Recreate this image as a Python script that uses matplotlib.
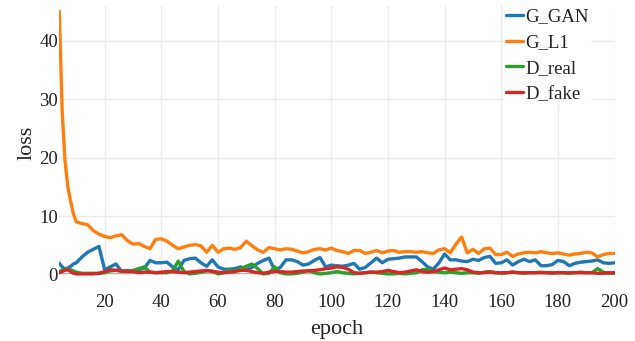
import numpy as np
import matplotlib
matplotlib.use("Agg")
import matplotlib.pyplot as plt

plt.rcParams['font.family'] = ['Liberation Serif', 'DejaVu Serif']

# epochs sampled for the loss curves
epochs = [4, 5, 6, 7, 8, 9, 10] + list(range(12, 201, 2))

g_l1 = [45, 28, 19.5, 15, 12.5, 10.3, 9.0,
        8.7, 8.5, 7.5, 6.9, 6.5, 6.3, 6.6, 6.8, 5.8, 5.2,
        5.3, 4.8, 4.4, 6.0, 6.1, 5.7, 5.0, 4.4, 4.7, 5.0,
        5.1, 4.9, 3.8, 5.0, 3.8, 4.4, 4.5, 4.3, 4.6, 5.7,
        4.9, 4.2, 3.8, 4.6, 4.4, 4.2, 4.4, 4.3, 4.0, 3.7,
        3.9, 4.3, 4.4, 4.2, 4.5, 4.1, 3.9, 3.6, 4.1, 4.1,
        3.6, 3.8, 4.1, 3.7, 4.0, 4.1, 3.8, 3.9, 3.9, 3.8,
        3.9, 3.7, 3.6, 4.2, 4.4, 3.7, 5.2, 6.4, 3.7, 4.3,
        3.6, 4.4, 4.5, 3.4, 3.4, 3.8, 3.1, 3.5, 3.7, 3.8,
        3.7, 3.9, 3.7, 3.6, 3.7, 3.5, 3.3, 3.5, 3.6, 3.8,
        3.7, 3.0, 3.4, 3.6, 3.6]

g_gan = [1.9, 1.3, 0.9, 1.1, 1.4, 1.8, 2.0,
         3.0, 3.8, 4.3, 4.8, 0.8, 1.3, 1.8, 0.5, 0.7, 0.6,
         0.8, 1.1, 2.4, 2.0, 2.0, 2.1, 1.3, 0.8, 2.4, 2.7,
         2.8, 2.0, 1.4, 2.5, 1.3, 0.9, 0.9, 1.0, 1.3, 0.8,
         1.2, 1.9, 2.4, 2.8, 0.8, 1.2, 2.5, 2.5, 2.2, 1.6,
         1.8, 2.4, 2.9, 1.3, 1.6, 1.5, 1.4, 1.6, 1.9, 0.9,
         1.2, 2.0, 2.8, 2.0, 2.6, 2.7, 2.8, 3.0, 3.0, 3.0,
         2.2, 1.3, 0.9, 2.0, 3.5, 2.5, 2.5, 2.3, 2.2, 2.6,
         2.4, 2.9, 3.1, 1.9, 2.0, 2.5, 1.6, 2.2, 2.6, 2.2,
         2.5, 1.5, 1.5, 1.7, 2.4, 2.2, 1.5, 1.9, 2.1, 2.2,
         2.3, 2.5, 2.0, 1.9, 2.0]

d_real = [0.5, 0.7, 0.9, 0.9, 0.8, 0.6, 0.4,
          0.2, 0.2, 0.2, 0.2, 0.3, 0.6, 0.7, 0.6, 0.6, 0.7,
          1.0, 1.3, 0.4, 0.3, 0.3, 0.3, 0.6, 2.3, 0.5, 0.1,
          0.2, 0.4, 0.6, 0.6, 0.1, 0.3, 0.7, 0.6, 1.0, 1.4,
          1.8, 1.0, 0.1, 0.2, 1.3, 0.3, 0.1, 0.1, 0.2, 0.4,
          0.7, 0.3, 0.1, 0.2, 0.3, 0.5, 0.3, 0.2, 0.1, 0.2,
          0.3, 0.4, 0.3, 0.2, 0.1, 0.1, 0.2, 0.1, 0.2, 0.3,
          0.8, 0.9, 0.5, 0.4, 0.3, 0.4, 0.3, 0.2, 0.3, 0.3,
          0.2, 0.4, 0.5, 0.3, 0.2, 0.3, 0.4, 0.3, 0.2, 0.3,
          0.3, 0.4, 0.3, 0.2, 0.3, 0.3, 0.2, 0.3, 0.4, 0.3,
          0.3, 1.0, 0.4, 0.2, 0.2]

d_fake = [0.3, 0.5, 0.7, 0.8, 0.5, 0.2, 0.1,
          0.1, 0.1, 0.1, 0.2, 0.5, 0.8, 0.7, 0.6, 0.5, 0.5,
          0.3, 0.4, 0.4, 0.3, 0.4, 0.5, 0.5, 0.4, 0.3, 0.4,
          0.5, 0.6, 0.7, 0.5, 0.4, 0.3, 0.4, 0.5, 0.7, 0.7,
          0.5, 0.3, 0.2, 0.4, 0.5, 0.5, 0.4, 0.4, 0.5, 0.6,
          0.6, 0.7, 0.8, 1.0, 1.1, 1.3, 1.2, 0.9, 0.3, 0.2,
          0.3, 0.4, 0.4, 0.5, 0.7, 0.5, 0.3, 0.4, 0.6, 0.8,
          0.5, 0.4, 0.5, 0.8, 1.1, 0.8, 0.9, 1.0, 0.8, 0.4,
          0.3, 0.3, 0.4, 0.3, 0.3, 0.3, 0.4, 0.3, 0.3, 0.3,
          0.3, 0.3, 0.3, 0.3, 0.3, 0.3, 0.3, 0.3, 0.3, 0.3,
          0.3, 0.2, 0.2, 0.3, 0.3]

series = [("G_GAN", g_gan, "#1f77b4"),
          ("G_L1", g_l1, "#ff7f0e"),
          ("D_real", d_real, "#2ca02c"),
          ("D_fake", d_fake, "#d62728")]

fig = plt.figure(figsize=(6.35, 3.41), dpi=100)
ax = fig.add_axes([0.0934, 0.179, 0.8745, 0.803])

for name, vals, col in series:
    ax.plot(epochs, vals, color=col, lw=2.4, label=name,
            solid_joinstyle='round', solid_capstyle='round')

ax.axhline(0, color='#9a9a9a', lw=1.3, zorder=0)
ax.set_xlim(4, 200)
ax.set_ylim(-0.94, 45.9)
ax.set_xticks(range(20, 201, 20))
ax.set_yticks([0, 10, 20, 30, 40])
ax.grid(True, color='#ececec', lw=1.0)
ax.set_axisbelow(True)
for s in ax.spines.values():
    s.set_visible(False)
ax.tick_params(length=0, labelsize=13.5, colors='#222222')
ax.tick_params(axis='x', pad=10)
ax.tick_params(axis='y', pad=1)

ax.set_xlabel("epoch", fontsize=16, color='#222222')
ax.set_ylabel("loss", fontsize=16, color='#222222')
ax.xaxis.set_label_coords(0.5, -0.145)
ax.yaxis.set_label_coords(-0.04, 0.5)

leg = ax.legend(loc='upper left', bbox_to_anchor=(0.801, 1.0), frameon=True,
                fontsize=13.5, handlelength=0.9, handletextpad=0.15,
                labelspacing=0.47, borderpad=0.1, borderaxespad=0)
leg.get_frame().set_facecolor('white')
leg.get_frame().set_edgecolor('none')
leg.get_frame().set_alpha(1)
for t in leg.get_texts():
    t.set_color('#222222')

fig.savefig("out.png", dpi=100)
